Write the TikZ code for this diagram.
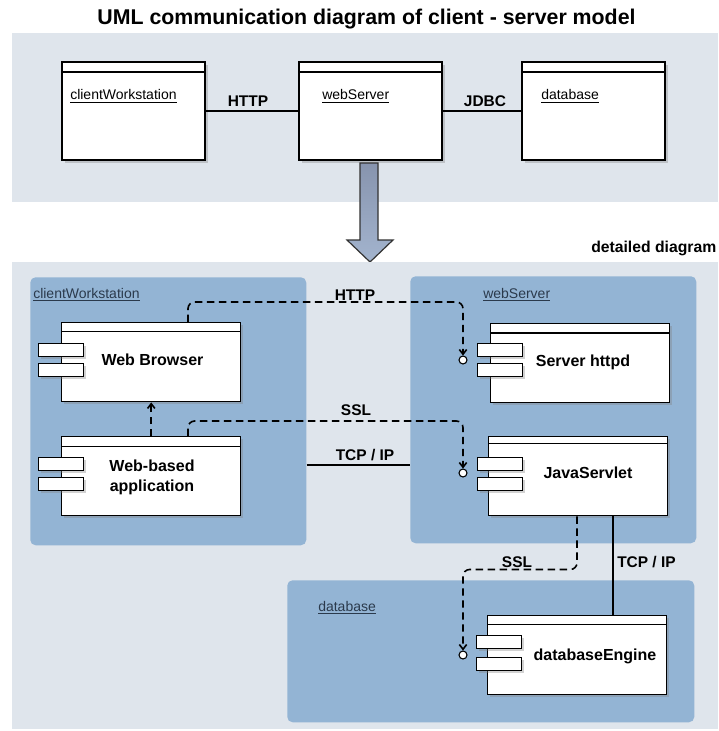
\documentclass[tikz,border=0pt]{standalone}
\usepackage{fontspec}
\setmainfont{Liberation Sans}
\usetikzlibrary{shadows,arrows.meta,calc}
\definecolor{panel}{HTML}{DFE5EC}
\definecolor{cont}{HTML}{93B4D4}
\definecolor{contlbl}{HTML}{2B3A4C}
\definecolor{arrtop}{HTML}{8794AE}
\definecolor{arrbot}{HTML}{A3B4CE}
\begin{document}
\begin{tikzpicture}[x=0.75pt,y=-0.75pt,
  container/.style={fill=cont, draw=none, rounded corners=4pt, anchor=north west, inner sep=0pt},
  topbox/.style={draw=black, line width=1.5pt, fill=white, anchor=north west, inner sep=0pt,
    drop shadow={shadow xshift=2pt, shadow yshift=-2pt, opacity=0.35}},
  comp/.style={draw=black, line width=1.1pt, fill=white, anchor=north west, inner sep=0pt,
    minimum width=179*0.75pt, minimum height=79*0.75pt,
    drop shadow={shadow xshift=2pt, shadow yshift=-2pt, opacity=0.35}},
  tabbox/.style={draw=black, line width=1pt, fill=white, anchor=north west, inner sep=0pt,
    minimum width=45*0.75pt, minimum height=13*0.75pt,
    drop shadow={shadow xshift=1.5pt, shadow yshift=-1.5pt, opacity=0.35}},
  port/.style={circle, draw=black, fill=white, line width=0.8pt, minimum size=8*0.75pt, inner sep=0pt},
  hdr/.style={line width=0.8pt},
  tophdr/.style={line width=1.5pt},
  clbl/.style={font=\fontsize{12}{15}\selectfont\bfseries, align=center, inner sep=0pt},
  conlbl/.style={font=\fontsize{11.6}{14}\selectfont\bfseries, inner sep=0pt},
  objlbl/.style={font=\fontsize{10.5}{12}\selectfont, anchor=base west, inner sep=0pt},
  contname/.style={font=\fontsize{10.5}{12}\selectfont, text=contlbl, anchor=base west, inner sep=0pt},
  dashline/.style={line width=1.2pt, dash pattern=on 5.5pt off 3.5pt, rounded corners=5pt},
  solidline/.style={line width=1pt},
  tipb/.style={-{Straight Barb[length=3.5pt,width=5.5pt]}}
]
\useasboundingbox (0,0) rectangle (718,731);
\fill[white] (0,0) rectangle (718,731);

% title
\node[font=\fontsize{16}{19}\selectfont\bfseries, anchor=base, inner sep=0pt] (title) at (366.5,25) {UML communication diagram of client - server model};

% top panel
\fill[panel] (12,33) rectangle (718,202);

% top objects
\node[topbox, minimum width=143*0.75pt, minimum height=98*0.75pt] (cw) at (61,61) {};
\node[topbox, minimum width=143*0.75pt, minimum height=98*0.75pt] (ws) at (298,61) {};
\node[topbox, minimum width=143*0.75pt, minimum height=98*0.75pt] (db) at (521,61) {};
\foreach \b in {cw,ws,db}{
  \draw[tophdr] ([yshift=-8.25pt]\b.north west) -- ([yshift=-8.25pt]\b.north east);
}
\node[objlbl] (cwl) at (70,100) {\underline{clientWorkstation}};
\node[objlbl] (wsl) at (322,100) {\underline{webServer}};
\node[objlbl] (dbl) at (541,100) {\underline{database}};
\draw[solidline] (cw.east) -- (ws.west);
\draw[solidline] (ws.east) -- (db.west);
\node[conlbl] (http0) at (248,101) {HTTP};
\node[conlbl] (jdbc0) at (485,101) {JDBC};

% big arrow
\shade[top color=arrtop, bottom color=arrbot, draw=black!80, line width=0.9pt]
  (360,163) -- (378,163) -- (378,240) -- (393,240) -- (370,262) -- (347,240) -- (360,240) -- cycle;

% detailed label
\node[font=\fontsize{11.8}{14}\selectfont\bfseries, anchor=base west, inner sep=0pt] (det) at (591,252) {detailed diagram};

% bottom panel
\fill[panel] (12,262) rectangle (718,729);

% containers
\node[container, minimum width=276*0.75pt, minimum height=268*0.75pt] (cwc) at (30,277) {};
\node[container, minimum width=286*0.75pt, minimum height=267*0.75pt] (wsc) at (410,276) {};
\node[container, minimum width=407*0.75pt, minimum height=142*0.75pt] (dbc) at (287,580) {};
\node[contname] (cwcl) at (33,298) {\underline{clientWorkstation}};
\node[contname] (wscl) at (483,298) {\underline{webServer}};
\node[contname] (dbcl) at (318,611) {\underline{database}};

% components
\node[comp] (wb) at (61,322) {};
\node[comp] (wba) at (61,436) {};
\node[comp] (sh) at (490,323) {};
\node[comp] (js) at (488,436) {};
\node[comp] (de) at (487,615) {};
\draw[hdr] ([yshift=-7pt]wb.north west) -- ([yshift=-7pt]wb.north east);
\draw[hdr] ([yshift=-8pt]wba.north west) -- ([yshift=-8pt]wba.north east);
\draw[hdr] ([yshift=-7.5pt]sh.north west) -- ([yshift=-7.5pt]sh.north east);
\draw[hdr] ([yshift=-5.5pt]js.north west) -- ([yshift=-5.5pt]js.north east);
\draw[hdr] ([yshift=-7pt]de.north west) -- ([yshift=-7pt]de.north east);

\node[tabbox] (wbt1) at (38,343) {};
\node[tabbox] (wbt2) at (38,363) {};
\node[tabbox] (wbat1) at (38,457) {};
\node[tabbox] (wbat2) at (38,477) {};
\node[tabbox] (sht1) at (477,343) {};
\node[tabbox] (sht2) at (477,363) {};
\node[tabbox] (jst1) at (477,457) {};
\node[tabbox] (jst2) at (477,477) {};
\node[tabbox] (det1) at (476,635) {};
\node[tabbox] (det2) at (476,657) {};

\node[clbl] (wbl) at (152.5,360) {Web Browser};
\node[clbl] (wbal) at (152,477) {Web-based\\application};
\node[clbl] (shl) at (583,362) {Server httpd};
\node[clbl] (jsl) at (588,473) {JavaServlet};
\node[clbl] (del) at (595,656) {databaseEngine};

% ports
\node[port] (shp) at (463,360) {};
\node[port] (jsp) at (463,473) {};
\node[port] (dep) at (463,655) {};

% connectors
\draw[dashline, tipb] ($(wb.north west)+(127,0)$) -- ++(0,-20) -| (shp.north);
\node[conlbl, anchor=base] (httpl) at (355,300) {HTTP};
\draw[dashline, tipb] ($(wba.north west)+(127,0)$) -- ++(0,-15) -| (jsp.north);
\node[conlbl] (ssl1) at (356,410) {SSL};
\draw[dashline, tipb] (wba.north) -- (wb.south);
\coordinate (tcpy) at (0,465);
\draw[solidline] (cwc.east |- tcpy) -- (wsc.west |- tcpy);
\node[conlbl] (tcp1) at (365,455) {TCP / IP};
\draw[dashline, tipb] ($(js.south west)+(89,0)$) -- ++(0,53) -| (dep.north);
\node[conlbl] (ssl2) at (517,562) {SSL};
\draw[solidline] ($(js.south west)+(125,0)$) -- ($(de.north west)+(126,0)$);
\node[conlbl, anchor=west] (tcp2) at (617,562) {TCP / IP};
\end{tikzpicture}
\end{document}
